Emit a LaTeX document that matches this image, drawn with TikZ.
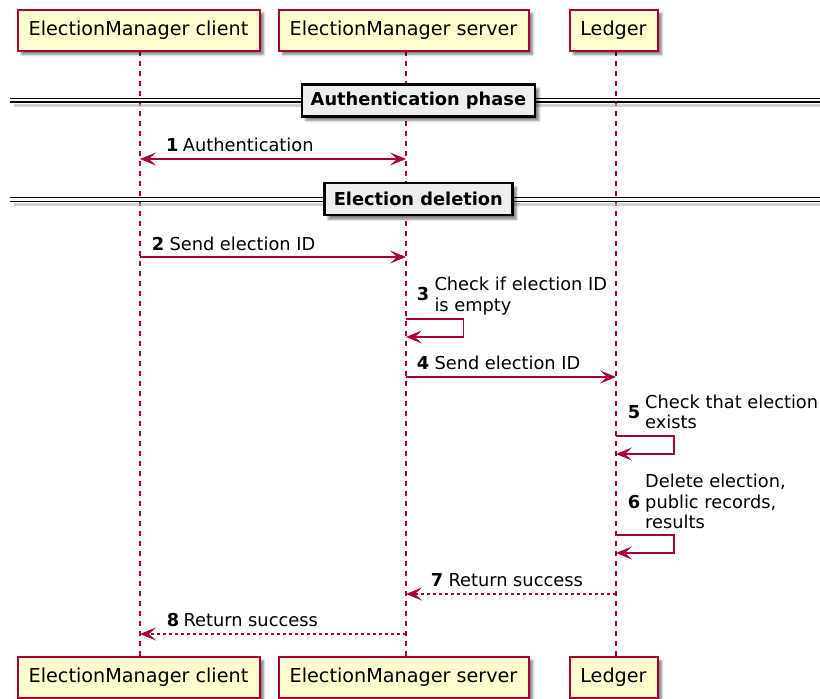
\documentclass[tikz,border=0pt]{standalone}
\usepackage{fontspec}
\setmainfont{DejaVu Sans}
\usetikzlibrary{arrows.meta,shadows.blur}
\definecolor{umlred}{HTML}{A80036}
\definecolor{umlfill}{HTML}{FEFECE}
\definecolor{divfill}{HTML}{EEEEEE}
\tikzset{
  tip/.tip={Stealth[length=16pt, width=13pt, inset=7pt]},
  actor/.style={draw=umlred, line width=2pt, fill=umlfill, inner sep=0pt,
    minimum height=41pt, font=\fontsize{19.2}{23}\selectfont,
    blur shadow={shadow xshift=4pt, shadow yshift=-4pt, shadow blur steps=6, shadow opacity=50}},
  life/.style={draw=umlred, line width=1.3pt, dash pattern=on 5pt off 5pt},
  msg/.style={draw=umlred, line width=1.6pt, -tip},
  msgboth/.style={msg, tip-tip},
  reply/.style={msg, dash pattern=on 3pt off 3pt},
  num/.style={anchor=base west, inner sep=0pt, font=\fontsize{17.8}{20}\selectfont\bfseries},
  lbl/.style={anchor=base west, inner sep=0pt, font=\fontsize{17.8}{20}\selectfont},
  divbox/.style={draw=black, line width=2.4pt, fill=divfill, inner sep=0pt,
    minimum height=32pt, font=\fontsize{17.8}{20}\selectfont\bfseries,
    blur shadow={shadow xshift=4pt, shadow yshift=-4pt, shadow blur steps=6, shadow opacity=50}},
  divline/.style={draw=black, line width=1.4pt},
  divshadow/.style={draw=black!30, line width=3pt, opacity=0.6},
}
\begin{document}
\begin{tikzpicture}[x=1pt, y=-1pt]
\useasboundingbox (0,0) rectangle (820,699);

% lifelines
\coordinate (cTop) at (140,51);  \coordinate (cBot) at (140,657);
\coordinate (sTop) at (406,51); \coordinate (sBot) at (406,657);
\coordinate (lTop) at (616,51);  \coordinate (lBot) at (616,657);
\draw[life] (cTop) -- (cBot);
\draw[life] (sTop) -- (sBot);
\draw[life] (lTop) -- (lBot);

% participants, top and bottom
\node[actor, minimum width=242pt] (clientT) at (138.5,30) {ElectionManager client};
\node[actor, minimum width=250pt] (serverT) at (403.5,30) {ElectionManager server};
\node[actor, minimum width=88pt]  (ledgerT) at (613.5,30) {Ledger};
\node[actor, minimum width=242pt] (clientB) at (138.5,677) {ElectionManager client};
\node[actor, minimum width=250pt] (serverB) at (403.5,677) {ElectionManager server};
\node[actor, minimum width=88pt]  (ledgerB) at (613.5,677) {Ledger};

% divider: Authentication phase
\coordinate (d1a) at (10,100); \coordinate (d1b) at (820,100);
\draw[divshadow] ([xshift=4pt,yshift=-5pt]d1a) -- ([yshift=-5pt]d1b);
\draw[divline] ([yshift=1.8pt]d1a) -- ([yshift=1.8pt]d1b);
\draw[divline] ([yshift=-1.8pt]d1a) -- ([yshift=-1.8pt]d1b);
\node[divbox, minimum width=233pt] (div1) at (418.4,100.5) {Authentication phase};

% message 1
\coordinate (m1a) at (140,159); \coordinate (m1b) at (406,159);
\draw[msgboth] (m1a) -- (m1b);
\node[num] (n1) at (166,151.5) {1};
\node[lbl] (t1) at (182.7,151.5) {Authentication};

% divider: Election deletion
\coordinate (d2a) at (10,199.4); \coordinate (d2b) at (820,199.4);
\draw[divshadow] ([xshift=4pt,yshift=-5pt]d2a) -- ([yshift=-5pt]d2b);
\draw[divline] ([yshift=1.8pt]d2a) -- ([yshift=1.8pt]d2b);
\draw[divline] ([yshift=-1.8pt]d2a) -- ([yshift=-1.8pt]d2b);
\node[divbox, minimum width=188pt] (div2) at (418.3,199.2) {Election deletion};

% message 2
\coordinate (m2a) at (140,257); \coordinate (m2b) at (406,257);
\draw[msg] (m2a) -- (m2b);
\node[num] (n2) at (151.7,250) {2};
\node[lbl] (t2) at (169.3,250) {Send election ID};

% message 3 (self)
\coordinate (m3a) at (406,319); \coordinate (m3b) at (406,337);
\draw[msg] (m3a) -- (463.3,319) |- (m3b);
\node[num] (n3) at (416.7,300.8) {3};
\node[lbl] (t3a) at (434.3,290.7) {Check if election ID};
\node[lbl] (t3b) at (434.3,311) {is empty};

% message 4
\coordinate (m4a) at (406,377); \coordinate (m4b) at (616,377);
\draw[msg] (m4a) -- (m4b);
\node[num] (n4) at (416.7,369) {4};
\node[lbl] (t4) at (434.3,369) {Send election ID};

% message 5 (self)
\coordinate (m5a) at (616,436); \coordinate (m5b) at (616,454);
\draw[msg] (m5a) -- (674,436) |- (m5b);
\node[num] (n5) at (627.7,418.2) {5};
\node[lbl] (t5a) at (645,408) {Check that election};
\node[lbl] (t5b) at (645,428.3) {exists};

% message 6 (self)
\coordinate (m6a) at (616,535); \coordinate (m6b) at (616,553);
\draw[msg] (m6a) -- (674,535) |- (m6b);
\node[num] (n6) at (627.7,508) {6};
\node[lbl] (t6a) at (645,487.7) {Delete election,};
\node[lbl] (t6b) at (645,508) {public records,};
\node[lbl] (t6c) at (645,528.3) {results};

% message 7 (reply)
\coordinate (m7a) at (616,594); \coordinate (m7b) at (406,594);
\draw[reply] (m7a) -- (m7b);
\node[num] (n7) at (430.7,586.3) {7};
\node[lbl] (t7) at (448.3,586.3) {Return success};

% message 8 (reply)
\coordinate (m8a) at (406,634); \coordinate (m8b) at (140,634);
\draw[reply] (m8a) -- (m8b);
\node[num] (n8) at (166.7,626.3) {8};
\node[lbl] (t8) at (183.3,626.3) {Return success};
\end{tikzpicture}
\end{document}
